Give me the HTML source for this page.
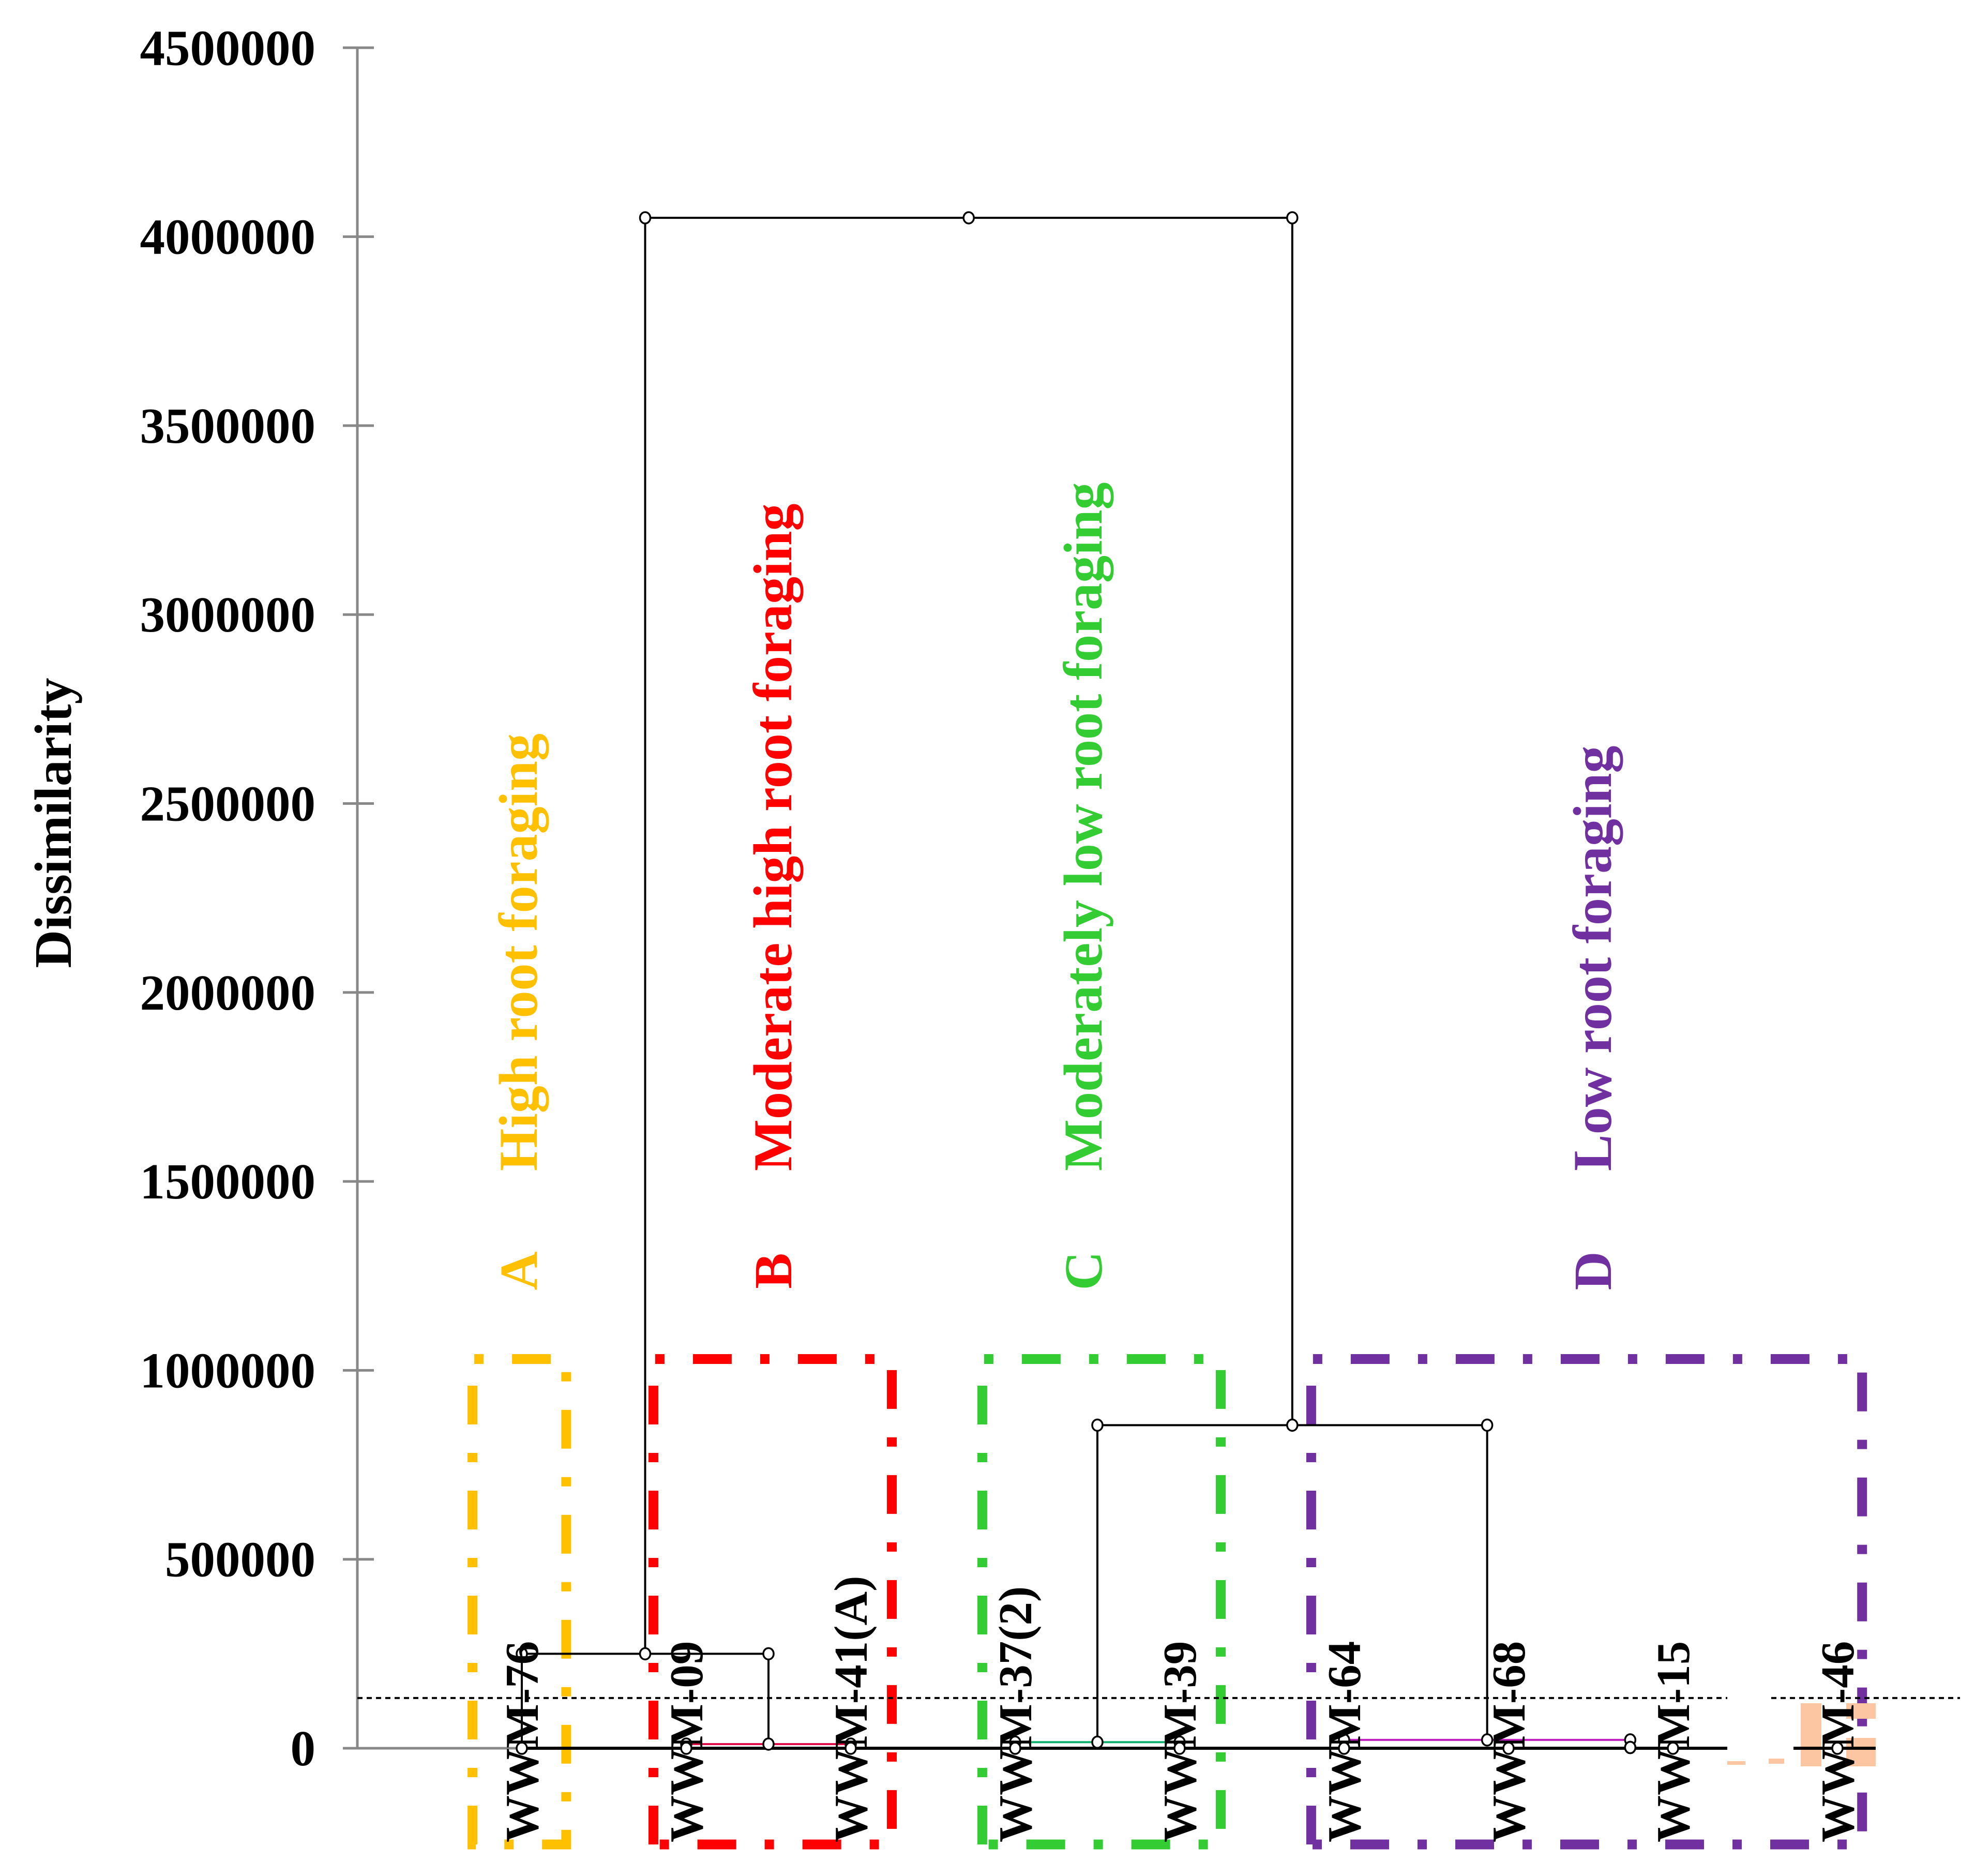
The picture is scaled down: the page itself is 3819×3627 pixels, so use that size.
<!DOCTYPE html>
<html><head><meta charset="utf-8"><style>
html,body{margin:0;padding:0;background:#fff;}
svg{display:block;}
text{font-family:"Liberation Serif",serif;font-weight:bold;}
</style></head><body>
<svg id="chart" width="3819" height="3627" viewBox="0 0 3819 3627" xmlns="http://www.w3.org/2000/svg">
<g id="boxes"></g>
<g id="axis"></g>
<g id="tree"></g>
<g id="labels"></g>
</svg>
<script>
const leafNames = ["WWM-76","WWM-09","WWM-41(A)","WWM-37(2)","WWM-39","WWM-64","WWM-68","WWM-15","WWM-46"];
const yTicks = [0,500000,1000000,1500000,2000000,2500000,3000000,3500000,4000000,4500000];
const yTickLabels = ["0","500000","1000000","1500000","2000000","2500000","3000000","3500000","4000000","4500000"];
// merges: left position (leaf index units), right position, height
const mergeLeft = [1, 0, 3, 5, 3.5, 0.75, 6.74];
const mergeRight = [2, 1.5, 4, 6.74, 5.87, 4.685, 6.74];
const mergeHeight = [11000, 250000, 16000, 22000, 855000, 4050000, 2000];
const mergeColor = ["#e0104a","#000","#10b070","#c020c0","#000","#000","#000"];
const cutHeight = 133000;
const groupLetters = ["A","B","C","D"];
const groupTitles = ["High root foraging","Moderate high root foraging","Moderately low root foraging","Low root foraging"];
const groupColors = ["#FFC000","#FF0000","#33CC33","#7030A0"];
const groupFrom = [-0.3, 0.8, 2.8, 4.8];
const groupTo = [0.27, 2.25, 4.25, 8.15];
const groupHeight = 1030000;

const NS="http://www.w3.org/2000/svg";
const y0=3380, pxPer=365.3/500000;
function yS(v){return y0 - v*pxPer;}
function xS(i){return 1009 + i*318;}
function mk(tag,attrs,parent){const e=document.createElementNS(NS,tag);for(const k in attrs)e.setAttribute(k,attrs[k]);parent.appendChild(e);return e;}
const boxes=document.getElementById('boxes'),axis=document.getElementById('axis'),tree=document.getElementById('tree'),labels=document.getElementById('labels');

groupColors.forEach((c,i)=>{
  const x1=xS(groupFrom[i]), x2=xS(groupTo[i]);
  const r=mk('path',{d:`M${x1},3566 L${x1},${yS(groupHeight)} L${x2},${yS(groupHeight)} L${x2},3566 Z`,fill:'none',stroke:c,'stroke-width':19,'stroke-dasharray':'75 55 18 55'},boxes);
  
  
});
[[3482,3293,40,122],[3570,3293,57,30],[3570,3360,57,55],[3420,3400,30,10],[3340,3405,35,7]].forEach(b=>{
  const r=mk('rect',{x:b[0],y:b[1],width:b[2],height:b[3],fill:'#FCC6A2'},boxes);
  
  
});

const ax=mk('line',{x1:691,y1:yS(4500000),x2:691,y2:y0,stroke:'#888','stroke-width':5},axis);


const b0=mk('line',{x1:663,y1:y0,x2:1009,y2:y0,stroke:'#888','stroke-width':5},axis);


yTicks.forEach((v,i)=>{
  const t=mk('line',{x1:663,y1:yS(v),x2:723,y2:yS(v),stroke:'#888','stroke-width':5},axis);
  
  
  const l=mk('text',{x:610,y:yS(v)+33,'text-anchor':'end','font-size':97,fill:'#000'},axis);
  l.textContent=yTickLabels[i];
  
  
});
const yt=mk('text',{transform:'translate(137,1591) rotate(-90)','text-anchor':'middle','font-size':102,fill:'#000'},axis);
yt.textContent='Dissimilarity';



const bl1=mk('line',{x1:1009,y1:y0,x2:3340,y2:y0,stroke:'#000','stroke-width':6},tree);


const bl2=mk('line',{x1:3468,y1:y0,x2:3627,y2:y0,stroke:'#000','stroke-width':6},tree);


const c1=mk('line',{x1:691,y1:yS(cutHeight),x2:3340,y2:yS(cutHeight),stroke:'#000','stroke-width':4,'stroke-dasharray':'10 8'},tree);


const c2=mk('line',{x1:3425,y1:yS(cutHeight),x2:3790,y2:yS(cutHeight),stroke:'#000','stroke-width':4,'stroke-dasharray':'10 8'},tree);



const childHeight=(pos)=>{
  for(let j=0;j<mergeLeft.length;j++){ if(Math.abs((mergeLeft[j]+mergeRight[j])/2-pos)<0.05 && mergeLeft[j]!==mergeRight[j]) return mergeHeight[j]; }
  return 0;};
const circles=[];
mergeLeft.forEach((l,j)=>{
  const r=mergeRight[j], h=mergeHeight[j], col=mergeColor[j];
  const yy=yS(h);
  const hl=mk('line',{x1:xS(l),y1:yy,x2:xS(r),y2:yy,stroke:col,'stroke-width':4},tree);
  
  
  [l,r].forEach(p=>{
    const ch=(l===r)?0:childHeight(p);
    const vl=mk('line',{x1:xS(p),y1:yy,x2:xS(p),y2:yS(ch),stroke:'#000','stroke-width':4},tree);
    
    
    circles.push([xS(p),yy]);
  });
  circles.push([xS((l+r)/2),yy]);
});
leafNames.forEach((n,i)=>circles.push([xS(i),y0]));
circles.forEach(c=>{
  const ci=mk('ellipse',{cx:c[0],cy:c[1],rx:10,ry:11,fill:'#fff',stroke:'#000','stroke-width':3.5},tree);
  
  
});

leafNames.forEach((n,i)=>{
  const t=mk('text',{transform:`translate(${xS(i)+31},3562) rotate(-90)`,'font-size':91,fill:'#000'},labels);
  t.textContent=n;
  
  
});
const gx=[1038,1530,2130,3115];
groupLetters.forEach((g,i)=>{
  const a=mk('text',{transform:`translate(${gx[i]},2457) rotate(-90)`,'text-anchor':'middle','font-size':104,fill:groupColors[i]},labels);
  a.textContent=g;
  
  
  const t=mk('text',{transform:`translate(${gx[i]},2264) rotate(-90)`,'font-size':106,fill:groupColors[i]},labels);
  t.textContent=groupTitles[i];
  
  
});
</script>
</body></html>
